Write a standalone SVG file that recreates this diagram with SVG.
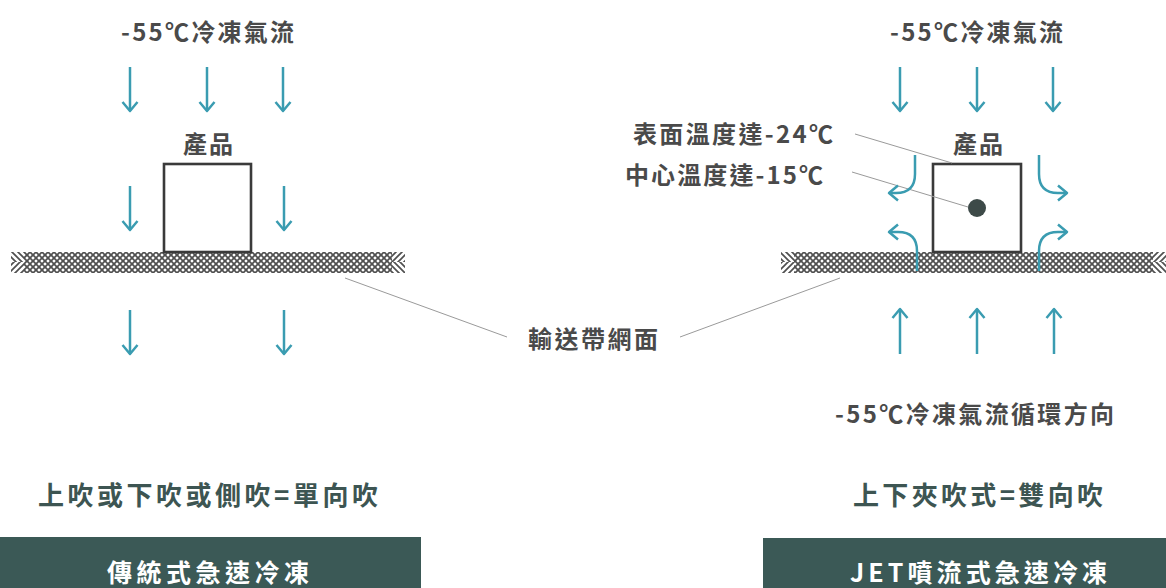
<svg xmlns="http://www.w3.org/2000/svg" width="1166" height="588" viewBox="0 0 1166 588">
<style>
.lbl{font-family:"Noto Sans CJK TC","Noto Sans CJK SC",sans-serif;font-weight:700;fill:#4a4a4a;font-size:24px}
.sum{font-family:"Noto Sans CJK TC","Noto Sans CJK SC",sans-serif;font-weight:700;fill:#3d5552;font-size:26px}
.ttl{font-family:"Noto Sans CJK TC","Noto Sans CJK SC",sans-serif;font-weight:700;fill:#ffffff;font-size:25px}
.arr{fill:none;stroke:#3a9cb1;stroke-width:2.5;marker-end:url(#ah)}
.lead{stroke:#9a9a9a;stroke-width:1;fill:none}
.box{fill:none;stroke:#3a3a3a;stroke-width:2.6}
</style>
<defs>
<marker id="ah" viewBox="-12 -10 14 20" refX="0" refY="0" markerWidth="14" markerHeight="20" markerUnits="userSpaceOnUse" orient="auto" overflow="visible">
<path d="M-9,-7.5 L0,0 L-9,7.5" fill="none" stroke="#3a9cb1" stroke-width="2.5" stroke-linejoin="round"/>
</marker>
<pattern id="pa" patternUnits="userSpaceOnUse" width="6" height="6">
<path d="M0,0 L6,6 M-1,5 L1,7 M5,-1 L7,1" stroke="#505050" stroke-width="1.7"/>
</pattern>
<pattern id="pb" patternUnits="userSpaceOnUse" width="6" height="6">
<path d="M6,0 L0,6 M-1,1 L1,-1 M5,7 L7,5" stroke="#505050" stroke-width="1.7"/>
</pattern>
</defs>
<rect width="1166" height="588" fill="#ffffff"/>

<g id="belt-left">
<path d="M11,252 H392 V262 H405 V273 H24 V262 H11 Z" fill="url(#pa)"/>
<path d="M24,252 H405 V262 H392 V273 H11 V262 H24 Z" fill="url(#pb)"/>
</g>
<g id="belt-right">
<path d="M781,252 H1153 V262 H1166 V273 H794 V262 H781 Z" fill="url(#pa)"/>
<path d="M794,252 H1166 V262 H1153 V273 H781 V262 H794 Z" fill="url(#pb)"/>
</g>

<g id="product-left">
<rect x="164" y="164" width="87" height="88" fill="#ffffff"/>
<rect class="box" x="164" y="164" width="87" height="88"/>
<text class="lbl" x="183" y="153" textLength="50" lengthAdjust="spacing">產品</text>
</g>
<g id="product-right">
<rect class="box" x="933" y="164" width="88" height="88"/>
<circle cx="977" cy="208" r="9" fill="#3d4a48"/>
<text class="lbl" x="953" y="153" textLength="50" lengthAdjust="spacing">產品</text>
</g>

<g id="connectors">
<line class="lead" x1="345" y1="278" x2="507" y2="337"/>
<line class="lead" x1="680" y1="337" x2="840" y2="278"/>
<line class="lead" x1="855" y1="134" x2="952" y2="163"/>
<line class="lead" x1="852" y1="172" x2="968" y2="207"/>
<path class="arr" d="M130,67 V111"/>
<path class="arr" d="M207,67 V111"/>
<path class="arr" d="M283,67 V111"/>
<path class="arr" d="M130,186 V230"/>
<path class="arr" d="M284,186 V230"/>
<path class="arr" d="M130,310 V354"/>
<path class="arr" d="M284,310 V354"/>
<path class="arr" d="M900,67 V111"/>
<path class="arr" d="M977,67 V111"/>
<path class="arr" d="M1053,67 V111"/>
<path class="arr" d="M900,354 V309"/>
<path class="arr" d="M977,354 V309"/>
<path class="arr" d="M1054,354 V309"/>
<path class="arr" d="M915,155 V174 Q915,193 896,193 H889"/>
<path class="arr" d="M917,271 V251 Q917,232 898,232 H889"/>
<path class="arr" d="M1039,155 V174 Q1039,193 1058,193 H1067"/>
<path class="arr" d="M1039,271 V251 Q1039,232 1058,232 H1067"/>
</g>

<g id="labels">
<text class="lbl" x="121" y="41" textLength="173" lengthAdjust="spacing">-55℃冷凍氣流</text>
<text class="lbl" x="890" y="41" textLength="173" lengthAdjust="spacing">-55℃冷凍氣流</text>
<text class="lbl" x="633" y="143" textLength="200" lengthAdjust="spacing">表面溫度達-24℃</text>
<text class="lbl" x="625" y="184" textLength="198" lengthAdjust="spacing">中心溫度達-15℃</text>
<text class="lbl" x="528" y="348" textLength="130" lengthAdjust="spacing">輸送帶網面</text>
<text class="lbl" x="835" y="423" textLength="279" lengthAdjust="spacing">-55℃冷凍氣流循環方向</text>
</g>

<g id="summary-left">
<text class="sum" x="38" y="505" textLength="340" lengthAdjust="spacing">上吹或下吹或側吹=單向吹</text>
</g>
<g id="summary-right">
<text class="sum" x="853" y="505" textLength="250" lengthAdjust="spacing">上下夾吹式=雙向吹</text>
</g>

<g id="title-left">
<rect x="0" y="537" width="421" height="51" fill="#3b5956"/>
<text class="ttl" x="107" y="582" textLength="202" lengthAdjust="spacing">傳統式急速冷凍</text>
</g>
<g id="title-right">
<rect x="763" y="538" width="403" height="50" fill="#3b5956"/>
<text class="ttl" x="850" y="582" textLength="257" lengthAdjust="spacing">JET噴流式急速冷凍</text>
</g>
</svg>
